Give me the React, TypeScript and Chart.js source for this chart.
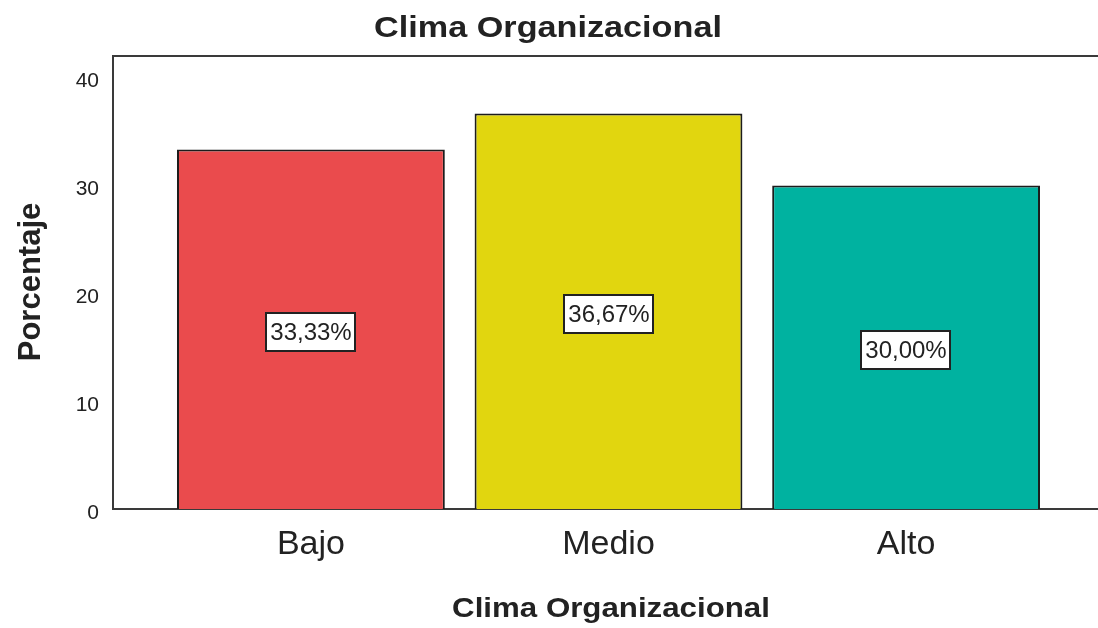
import React, { useEffect, useRef } from 'react';
import { Chart, registerables } from 'chart.js';

Chart.register(...registerables);

// Chart data
const categories = ['Bajo', 'Medio', 'Alto'];
const percentages = [33.33, 36.67, 30.0];
const barColors = ['#EA4B4D', '#E1D60F', '#00B2A0'];
const yTicks = [0, 10, 20, 30, 40];
const chartTitle = 'Clima Organizacional';
const xAxisTitle = 'Clima Organizacional';
const yAxisTitle = 'Porcentaje';

const FONT = "'Liberation Sans', Arial, Helvetica, sans-serif";
const INK = '#222222';
const LINE = '#3a3a3a';

const formatPercent = (v: number) => v.toFixed(2).replace('.', ',') + '%';

// Draws text horizontally widened around its centre
function drawWide(ctx: CanvasRenderingContext2D, text: string, cx: number, baseline: number, font: string, sx: number) {
  ctx.save();
  ctx.font = font;
  ctx.textAlign = 'center';
  ctx.textBaseline = 'alphabetic';
  ctx.translate(cx, baseline);
  ctx.scale(sx, 1);
  ctx.fillStyle = INK;
  ctx.fillText(text, 0, 0);
  ctx.restore();
}

const annotations = {
  id: 'spssAnnotations',
  afterDraw(chart: any) {
    const { ctx, chartArea, scales } = chart;
    const xs = scales.x;
    const ys = scales.y;
    ctx.save();

    // top frame line
    ctx.strokeStyle = LINE;
    ctx.lineWidth = 2;
    ctx.beginPath();
    ctx.moveTo(chartArea.left - 1, chartArea.top);
    ctx.lineTo(chartArea.right + 10, chartArea.top);
    ctx.stroke();

    // value boxes in the middle of each bar
    ctx.font = `24px ${FONT}`;
    ctx.textAlign = 'center';
    ctx.textBaseline = 'middle';
    percentages.forEach((v, i) => {
      const cx = Math.round(xs.getPixelForValue(i));
      const cy = Math.round(ys.getPixelForValue(v / 2)) + 3;
      const text = formatPercent(v);
      const w = Math.round(ctx.measureText(text).width) + 8;
      const h = 38;
      const left = cx - Math.round(w / 2);
      const top = cy - h / 2;
      ctx.fillStyle = '#ffffff';
      ctx.fillRect(left, top, w, h);
      ctx.strokeStyle = INK;
      ctx.lineWidth = 2;
      ctx.strokeRect(left, top, w, h);
      ctx.fillStyle = INK;
      ctx.fillText(text, cx, cy + 1);
    });

    // chart title and axis titles
    drawWide(ctx, chartTitle, 548, 37, `bold 30px ${FONT}`, 1.14);
    drawWide(ctx, xAxisTitle, 611, 617, `bold 28px ${FONT}`, 1.116);

    ctx.save();
    ctx.translate(40, 282);
    ctx.rotate(-Math.PI / 2);
    ctx.font = `bold 31px ${FONT}`;
    ctx.textAlign = 'center';
    ctx.textBaseline = 'alphabetic';
    ctx.fillStyle = INK;
    ctx.fillText(yAxisTitle, 0, 0);
    ctx.restore();

    ctx.restore();
  },
};

export default function App() {
  const canvasRef = useRef<HTMLCanvasElement>(null);

  useEffect(() => {
    document.body.style.margin = '0';
    const canvas = canvasRef.current;
    if (!canvas) return;

    const chart = new Chart(canvas, {
      type: 'bar',
      data: {
        datasets: [
          {
            data: percentages.map((v, i) => ({ x: i, y: v })),
            backgroundColor: barColors,
            borderColor: '#1c1c1c',
            borderWidth: 2,
            barPercentage: 0.9,
            categoryPercentage: 1,
          },
        ],
      },
      options: {
        responsive: false,
        animation: false,
        events: [],
        layout: { padding: { top: 56, right: 6, left: 0, bottom: 0 } },
        plugins: {
          legend: { display: false },
          tooltip: { enabled: false },
          title: { display: false },
        },
        scales: {
          x: {
            type: 'linear',
            offset: false,
            min: -0.665,
            max: 2.665,
            grid: { display: false, drawTicks: false },
            border: { display: true, color: LINE, width: 2 },
            afterBuildTicks: (s: any) => {
              s.ticks = categories.map((_, i) => ({ value: i }));
            },
            ticks: {
              callback: (v: any) => categories[v as number] ?? '',
              font: { size: 34, family: FONT },
              color: INK,
              padding: 15,
              autoSkip: false,
              maxRotation: 0,
            },
            afterFit: (s: any) => {
              s.height = 119;
            },
          },
          y: {
            min: 0,
            max: 42,
            grid: { display: false, drawTicks: false },
            border: { display: true, color: LINE, width: 2 },
            afterBuildTicks: (s: any) => {
              s.ticks = yTicks.map((v) => ({ value: v }));
            },
            ticks: {
              font: { size: 21, family: FONT },
              color: INK,
              padding: 14,
              labelOffset: 4,
            },
            afterFit: (s: any) => {
              s.width = 113;
            },
          },
        },
      },
      plugins: [annotations],
    });

    return () => chart.destroy();
  }, []);

  return (
    <div style={{ position: 'relative', width: 1098, height: 628, overflow: 'hidden', background: '#ffffff' }}>
      <canvas ref={canvasRef} width={1110} height={628} style={{ display: 'block', width: 1110, height: 628 }} />
    </div>
  );
}
